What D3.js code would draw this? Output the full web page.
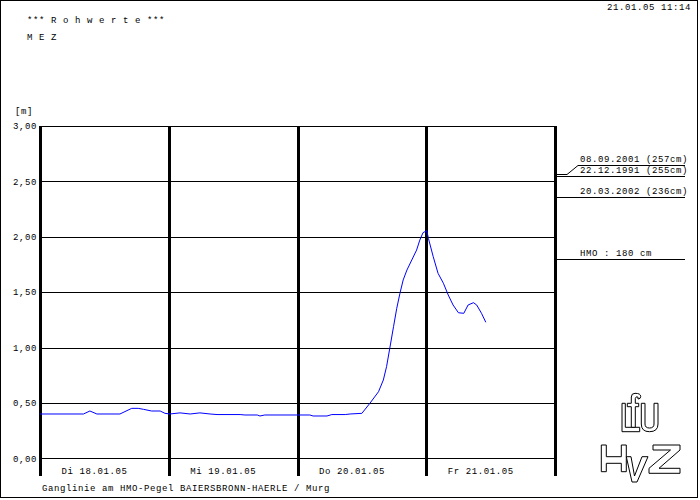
<!DOCTYPE html>
<html>
<head>
<meta charset="utf-8">
<script src="https://cdn.jsdelivr.net/npm/d3@7"></script>
<style>
  html, body { margin: 0; padding: 0; background: #fff; }
  svg { display: block; }
  text { font-family: "Liberation Mono", "DejaVu Sans Mono", monospace; font-size: 9px; letter-spacing: 0.6px; fill: #000; }
</style>
</head>
<body>
<script>
// ---- data ----
const hours = [0, 8.1, 9.3, 10.6, 14.9, 17.1, 18.3, 19.3, 20.8, 22.4, 23.3, 24.2, 26.1, 28, 29.8, 31.7, 33, 37.3, 38.2, 40.5, 41, 41.9, 47.9, 50.3, 50.9, 53.5, 54.4, 56.9, 57.8, 60, 61.5, 63.1, 64.0, 64.6, 65.2, 65.9, 66.5, 67.1, 67.7, 68.4, 69.3, 70.2, 70.8, 71.4, 72.1, 72.4, 73.3, 74.2, 75.2, 76.1, 77.0, 78.0, 79.0, 79.8, 80.8, 81.4, 82.3, 83.1];
const levels = [0.40, 0.40, 0.427, 0.40, 0.40, 0.451, 0.451, 0.442, 0.427, 0.427, 0.406, 0.40, 0.41, 0.40, 0.41, 0.40, 0.395, 0.395, 0.391, 0.391, 0.382, 0.391, 0.391, 0.391, 0.382, 0.382, 0.395, 0.395, 0.40, 0.406, 0.497, 0.601, 0.707, 0.827, 0.993, 1.188, 1.354, 1.49, 1.61, 1.70, 1.79, 1.88, 1.97, 2.037, 2.055, 1.986, 1.82, 1.67, 1.58, 1.474, 1.384, 1.314, 1.309, 1.384, 1.405, 1.384, 1.309, 1.228];
const dayLabels = ["Di 18.01.05", "Mi 19.01.05", "Do 20.01.05", "Fr 21.01.05"];
const dayBounds = [0, 24, 48, 72, 96];
const yTicks = [0, 0.5, 1.0, 1.5, 2.0, 2.5, 3.0];
const yTickLabels = ["0,00", "0,50", "1,00", "1,50", "2,00", "2,50", "3,00"];
const markLevels = [2.57, 2.55, 2.36, 1.80];
const markLabels = ["08.09.2001 (257cm)", "22.12.1991 (255cm)", "20.03.2002 (236cm)", "HMO : 180 cm"];
const headerLines = ["*** R o h w e r t e ***", "M E Z"];
const stampText = "21.01.05 11:14";
const unitText = "[m]";
const footerText = "Ganglinie am HMO-Pegel BAIERSBRONN-HAERLE / Murg";

// ---- layout ----
const W = 700, H = 500;
const L = 40, R = 555, T = 126, B = 458.3, VB = 476;

const svg = d3.select("body").append("svg").attr("width", W).attr("height", H);
svg.append("rect").attr("width", W).attr("height", H).attr("fill", "#fff");
svg.append("rect").attr("x", 0.5).attr("y", 0.5).attr("width", 697).attr("height", 497)
  .attr("fill", "none").attr("stroke", "#000").attr("stroke-width", 1);

const x = d3.scaleLinear().domain([0, 96]).range([L, R]);
const y = d3.scaleLinear().domain([0, 3]).range([B, T]);

// horizontal gridlines + labels via axis
const yAxis = d3.axisLeft(y).tickValues(yTicks)
  .tickFormat((d, i) => yTickLabels[i])
  .tickSizeInner(-(R - L)).tickSizeOuter(0).tickPadding(3);
const gy = svg.append("g").attr("transform", `translate(${L},0)`).call(yAxis);
gy.select(".domain").remove();
gy.selectAll(".tick line").attr("stroke", "#000").attr("stroke-width", 1).attr("shape-rendering", "crispEdges");
gy.selectAll(".tick text").attr("font-family", "Liberation Mono, monospace").attr("font-size", 9)
  .attr("fill", "#000").attr("dy", "0.3em");

// vertical day lines via axis
const xAxis = d3.axisBottom(x).tickValues(dayBounds).tickFormat("")
  .tickSizeInner(-(VB - T)).tickSizeOuter(0);
const gx = svg.append("g").attr("transform", `translate(0,${VB})`).call(xAxis);
gx.select(".domain").remove();
gx.selectAll(".tick line").attr("stroke", "#000").attr("stroke-width", 3).attr("shape-rendering", "crispEdges");

// day labels
svg.selectAll("text.day").data(dayLabels).join("text").attr("class", "day")
  .attr("x", (d, i) => x(dayBounds[i]) + 21.5).attr("y", 474).text(d => d);

// curve
const pts = hours.map((h, i) => [h, levels[i]]);
svg.append("path").datum(pts)
  .attr("d", d3.line().x(d => x(d[0])).y(d => y(d[1])))
  .attr("fill", "none").attr("stroke", "#0000ff").attr("stroke-width", 1);

// historic marks on the right
const xm0 = R, xm1 = 685, xt = 580;
markLevels.forEach((v, i) => {
  const yy = Math.round(y(v)) + 0.5;
  let d;
  if (i === 0) {
    const yUp = Math.round(y(v)) - 9 + 0.5;
    d = `M${xm0},${yy}H567L578,${yUp}H${xm1}`;
    svg.append("path").attr("d", d).attr("fill", "none").attr("stroke", "#000").attr("stroke-width", 1);
    svg.append("text").attr("x", xt).attr("y", yUp - 4).text(markLabels[i]);
  } else {
    d = `M${xm0},${yy}H${xm1}`;
    svg.append("path").attr("d", d).attr("fill", "none").attr("stroke", "#000").attr("stroke-width", 1);
    svg.append("text").attr("x", xt).attr("y", yy - 3.5).text(markLabels[i]);
  }
});

// header texts
svg.selectAll("text.hdr").data(headerLines).join("text").attr("class", "hdr")
  .attr("x", 27).attr("y", (d, i) => 23 + i * 16.5).text(d => d);
svg.append("text").attr("x", 691).attr("y", 10).attr("text-anchor", "end").text(stampText);
svg.append("text").attr("x", 15).attr("y", 114).text(unitText);
svg.append("text").attr("x", 42).attr("y", 491).text(footerText);

// logos (outlined)
const lg = svg.append("g").attr("transform", "translate(598,390)")
  .attr("fill", "#fff").attr("stroke", "#000").attr("stroke-width", 1).attr("stroke-linejoin", "miter");
// L
lg.append("path").attr("d", "M24,13.3H27.3V37.3H41.7V41.7H24Z");
// f
lg.append("path").attr("d", "M33.3,37.3V16.7H29.3V13.3H33.3V7Q33.3,3.3 37,3.3Q42.7,3.3 42.7,6.5Q42.7,9 40,9V7.2Q38,5.8 37.3,8.5V13.3H40.7V16.7H37.3V37.3Z");
// U
lg.append("path").attr("d", "M43.3,13.3H47V34Q47,38 51.5,38Q56,38 56,34V13.3H60V34Q60,41.7 51.5,41.7Q43.3,41.7 43.3,34Z");
// H
lg.append("path").attr("d", "M3.3,55H8.3V66.7H23.3V55H28.3V81.7H23.3V73.3H8.3V81.7H3.3Z");
// V
lg.append("path").attr("d", "M28.3,66.7H33L36.5,86L44,66.7H50L39,92H34Z");
// Z
lg.append("path").attr("d", "M55,55H82V60L61,78.3H82V83.3H51V78.3L72.5,60H55Z");
</script>
</body>
</html>
